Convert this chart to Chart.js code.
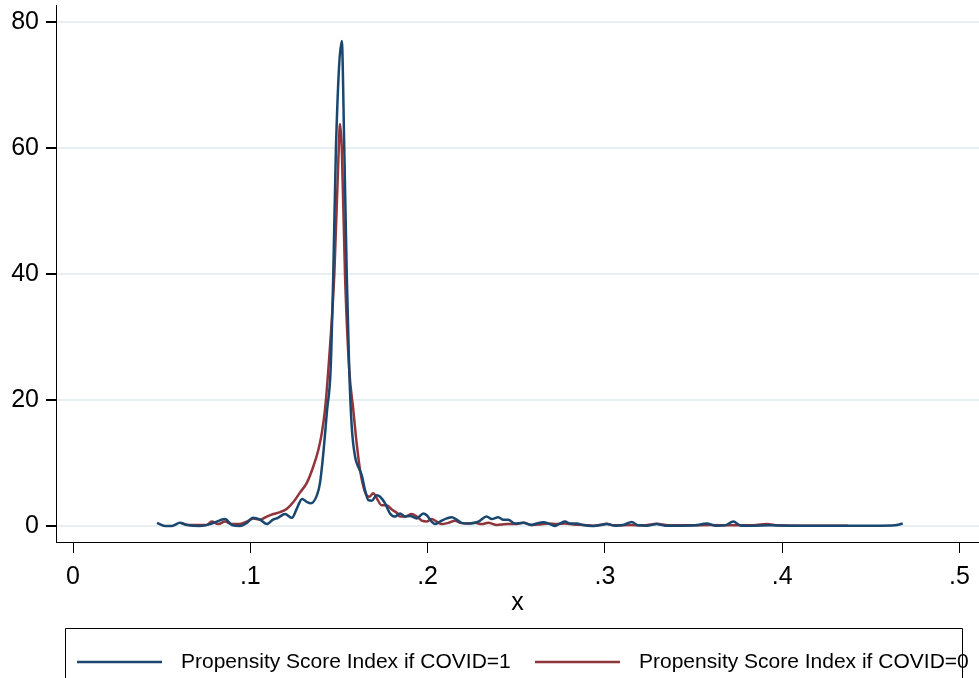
<!DOCTYPE html>
<html>
<head>
<meta charset="utf-8">
<title>Propensity score density</title>
<script src="https://cdn.jsdelivr.net/npm/chart.js@4/dist/chart.umd.min.js"></script>
<style>
  body { margin: 0; background: #ffffff; }
  canvas { display: block; }
</style>
</head>
<body>
<canvas id="densityChart" width="979" height="678"></canvas>
<script>
'use strict';

// data
var covid1X = [0.0474, 0.0519, 0.0558, 0.0603, 0.0643, 0.0716, 0.0773, 0.0801, 0.0857, 0.0897,
  0.0942, 0.0981, 0.1015, 0.1055, 0.1094, 0.1128, 0.1156, 0.1196, 0.1235, 0.1263,
  0.1292, 0.1320, 0.1342, 0.1376, 0.1393, 0.1410, 0.1433, 0.1453, 0.1468, 0.1483,
  0.1516, 0.1530, 0.1544, 0.1558, 0.1572, 0.1591, 0.1609, 0.1628, 0.1647, 0.1666,
  0.1685, 0.1713, 0.1732, 0.1760, 0.1788, 0.1816, 0.1844, 0.1873, 0.1901, 0.1939,
  0.1976, 0.1995, 0.2023, 0.2042, 0.2070, 0.2108, 0.2136, 0.2164, 0.2192, 0.2239,
  0.2286, 0.2333, 0.2362, 0.2399, 0.2427, 0.2455, 0.2493, 0.2540, 0.2587, 0.2615,
  0.2653, 0.2690, 0.2719, 0.2747, 0.2775, 0.2803, 0.2841, 0.2878, 0.2926, 0.2972,
  0.3010, 0.3057, 0.3108, 0.3151, 0.3187, 0.3243, 0.3292, 0.3339, 0.3424, 0.3508,
  0.3574, 0.3627, 0.3677, 0.3724, 0.3768, 0.3847, 0.3931, 0.4044, 0.4213, 0.4382,
  0.4552, 0.4636, 0.4680];
var covid1Y = [0.5, 0.0, 0.0, 0.5, 0.15, 0.0, 0.3, 0.6, 1.1, 0.15,
  0.0, 0.5, 1.3, 1.0, 0.3, 1.0, 1.3, 1.9, 1.3, 2.8,
  4.3, 3.8, 3.6, 4.9, 6.8, 11, 18.4, 24.8, 40, 60,
  77, 60, 40, 24.8, 15.8, 11, 9.4, 8.1, 5.7, 4.1,
  4.0, 4.9, 4.65, 3.6, 2.0, 1.5, 2.0, 1.5, 1.6, 1.2,
  2.0, 1.7, 0.7, 0.3, 0.7, 1.2, 1.4, 1.0, 0.5, 0.4,
  0.7, 1.5, 1.1, 1.4, 1.0, 1.0, 0.4, 0.5, 0.15, 0.4,
  0.6, 0.3, 0.0, 0.4, 0.7, 0.4, 0.4, 0.15, 0.0, 0.15,
  0.3, 0.05, 0.2, 0.65, 0.1, 0.05, 0.3, 0.05, 0.05, 0.1,
  0.4, 0.05, 0.1, 0.7, 0.05, 0.05, 0.1, 0.05, 0.05, 0.05,
  0.05, 0.1, 0.4];

var covid0X = [0.0613, 0.0660, 0.0754, 0.0782, 0.0820, 0.0857, 0.0895, 0.0942, 0.0980, 0.1017,
  0.1055, 0.1093, 0.1130, 0.1168, 0.1205, 0.1243, 0.1280, 0.1318, 0.1355, 0.1384,
  0.1403, 0.1421, 0.1440, 0.1474, 0.1499, 0.1506, 0.1516, 0.1534, 0.1558, 0.1581,
  0.1600, 0.1619, 0.1647, 0.1671, 0.1694, 0.1713, 0.1741, 0.1769, 0.1798, 0.1826,
  0.1844, 0.1873, 0.1910, 0.1939, 0.1967, 0.1995, 0.2023, 0.2051, 0.2080, 0.2117,
  0.2155, 0.2183, 0.2221, 0.2267, 0.2305, 0.2342, 0.2390, 0.2446, 0.2493, 0.2540,
  0.2587, 0.2634, 0.2681, 0.2728, 0.2775, 0.2822, 0.2878, 0.2935, 0.2972, 0.3010,
  0.3051, 0.3142, 0.3226, 0.3292, 0.3356, 0.3480, 0.3593, 0.3706, 0.3818, 0.3913,
  0.3976, 0.4100, 0.4241, 0.4371];
var covid0Y = [0.4, 0.15, 0.15, 0.7, 0.3, 0.7, 0.3, 0.3, 0.7, 1.2,
  1.0, 1.5, 1.9, 2.2, 2.7, 3.8, 5.3, 6.8, 9.4, 12.1,
  14.7, 18.4, 24.8, 40, 60, 63.8, 60, 40, 24.8, 18.4,
  13.1, 8.9, 5.4, 4.65, 5.2, 4.4, 3.3, 3.3, 2.6, 2.1,
  1.5, 1.5, 1.9, 1.5, 0.85, 0.7, 1.1, 0.7, 0.3, 0.5,
  0.85, 0.5, 0.4, 0.5, 0.3, 0.5, 0.15, 0.3, 0.3, 0.5,
  0.15, 0.25, 0.4, 0.3, 0.4, 0.25, 0.15, 0.05, 0.15, 0.35,
  0.1, 0.15, 0.1, 0.35, 0.1, 0.1, 0.15, 0.1, 0.1, 0.3,
  0.1, 0.05, 0.05, 0.05];

var seriesNames = ['Propensity Score Index if COVID=1', 'Propensity Score Index if COVID=0'];
var xTicks = [0, 0.1, 0.2, 0.3, 0.4, 0.5];
var xTickLabels = ['0', '.1', '.2', '.3', '.4', '.5'];
var yTicks = [0, 20, 40, 60, 80];

var blue = '#1a476f';
var red = '#90353b';
var fontFamily = "'Liberation Sans', Arial, sans-serif";

function toPoints(xs, ys){
  return xs.map(function(x, i) {return {x: x, y: ys[i]};});
}

// stata style legend box under the axis title (cut off at the bottom)
var boxLegend = {
  id: 'boxLegend',
  afterDraw: function(chart){
    var ctx = chart.ctx;
    ctx.save();
    var starts = [77, 535];
    ctx.font = '21px ' + fontFamily;
    ctx.textBaseline = 'middle';
    ctx.textAlign = 'left';
    for (var i = 0; i < chart.data.datasets.length; i++) {
      var ds = chart.data.datasets[i];
      ctx.strokeStyle = ds.borderColor;
      ctx.lineWidth = 2.5;
      ctx.beginPath();
      ctx.moveTo(starts[i], 662);
      ctx.lineTo(starts[i] + 85, 662);
      ctx.stroke();
      ctx.fillStyle = '#000000';
      ctx.fillText(ds.label, starts[i] + 104, 662);
    }
    ctx.strokeStyle = '#000000';
    ctx.lineWidth = 1;
    ctx.beginPath();
    ctx.moveTo(65.5, 678);
    ctx.lineTo(65.5, 628.5);
    ctx.lineTo(962.5, 628.5);
    ctx.lineTo(962.5, 678);
    ctx.stroke();
    ctx.restore();
  }
};

var ctx = document.getElementById('densityChart').getContext('2d');
new Chart(ctx, {
  type: 'line',
  data: {
    datasets: [
      {
        label: seriesNames[0],
        data: toPoints(covid1X, covid1Y),
        borderColor: blue,
        borderWidth: 2.5,
        pointRadius: 0,
        cubicInterpolationMode: 'monotone',
        fill: false
      },
      {
        label: seriesNames[1],
        data: toPoints(covid0X, covid0Y),
        borderColor: red,
        borderWidth: 2.5,
        pointRadius: 0,
        cubicInterpolationMode: 'monotone',
        fill: false
      }
    ]
  },
  options: {
    responsive: false,
    animation: false,
    layout: {padding: {top: 5, right: 0, bottom: 60, left: 0}},
    plugins: {
      legend: {display: false},
      tooltip: {enabled: false}
    },
    scales: {
      x: {
        type: 'linear',
        min: -0.00959,
        max: 0.511,
        afterBuildTicks: function(scale){
          scale.ticks = xTicks.map(function(v) {return {value: v};});
        },
        afterFit: function(scale){
          scale.height = 76;
          scale.paddingLeft = 0;
          scale.paddingRight = 0;
        },
        ticks: {
          autoSkip: false,
          maxRotation: 0,
          padding: 9,
          color: '#000000',
          font: {family: fontFamily, size: 25},
          callback: function(value){
            var idx = xTicks.indexOf(value);
            return idx >= 0 ? xTickLabels[idx] : '';
          }
        },
        grid: {
          drawOnChartArea: false,
          tickLength: 11,
          tickColor: '#000000',
          lineWidth: 1
        },
        border: {color: '#000000', width: 1},
        title: {
          display: true,
          text: 'x',
          color: '#000000',
          padding: 0,
          font: {family: fontFamily, size: 25}
        }
      },
      y: {
        min: -2.54,
        max: 82.7,
        afterBuildTicks: function(scale){
          scale.ticks = yTicks.map(function(v) {return {value: v};});
        },
        afterFit: function(scale){
          scale.width = 56;
          scale.paddingTop = 0;
          scale.paddingBottom = 0;
        },
        ticks: {
          padding: 7,
          color: '#000000',
          font: {family: fontFamily, size: 25}
        },
        grid: {
          color: '#e8eff2',
          lineWidth: 2,
          tickLength: 10,
          tickColor: '#000000'
        },
        border: {color: '#000000', width: 1}
      }
    }
  },
  plugins: [boxLegend]
});
</script>
</body>
</html>
